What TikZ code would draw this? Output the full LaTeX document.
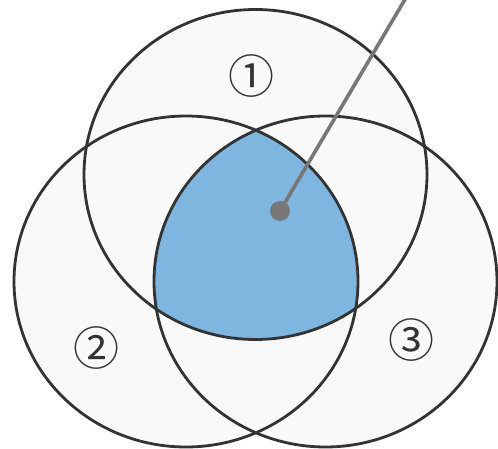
\documentclass[tikz,border=0pt]{standalone}
\usepackage{fontspec}
\newfontfamily\symfont{Noto Sans CJK JP}
\definecolor{ringfill}{HTML}{F9F9F9}
\definecolor{ringline}{HTML}{333333}
\definecolor{coreblue}{HTML}{7EB6DF}
\definecolor{pointer}{HTML}{787676}
\tikzset{
  ring/.style={draw=ringline, line width=2.8pt},
  ringlabel/.style={font=\symfont\fontsize{46}{46}\selectfont, text=ringline, inner sep=0pt},
}
\begin{document}
\begin{tikzpicture}[x=1pt,y=-1pt]
\useasboundingbox (0,0) rectangle (498,449);
\coordinate (c1) at (255.5,174.5);
\coordinate (c2) at (186,281.5);
\coordinate (c3) at (325.5,281.5);
% fills
\fill[ringfill] (c1) ellipse [x radius=171.5pt, y radius=165pt];
\fill[ringfill] (c2) ellipse [x radius=172pt, y radius=165.5pt];
\fill[ringfill] (c3) ellipse [x radius=171.5pt, y radius=165.5pt];
\begin{scope}
  \clip (c1) ellipse [x radius=171.5pt, y radius=165pt];
  \clip (c2) ellipse [x radius=172pt, y radius=165.5pt];
  \fill[coreblue] (c3) ellipse [x radius=171.5pt, y radius=165.5pt];
\end{scope}
% outlines
\draw[ring] (c1) ellipse [x radius=171.5pt, y radius=165pt];
\draw[ring] (c2) ellipse [x radius=172pt, y radius=165.5pt];
\draw[ring] (c3) ellipse [x radius=171.5pt, y radius=165.5pt];
% labels
\node[ringlabel] (l1) at (251,76.5) {①};
\node[ringlabel] (l2) at (96,348) {②};
\node[ringlabel] (l3) at (411,340) {③};
% pointer
\coordinate (tip) at (407,-4);
\node[circle, fill=pointer, minimum size=20pt, inner sep=0pt] (dot) at (280,211) {};
\draw[pointer, line width=3.6pt] (dot.center) -- (tip);
\end{tikzpicture}
\end{document}
